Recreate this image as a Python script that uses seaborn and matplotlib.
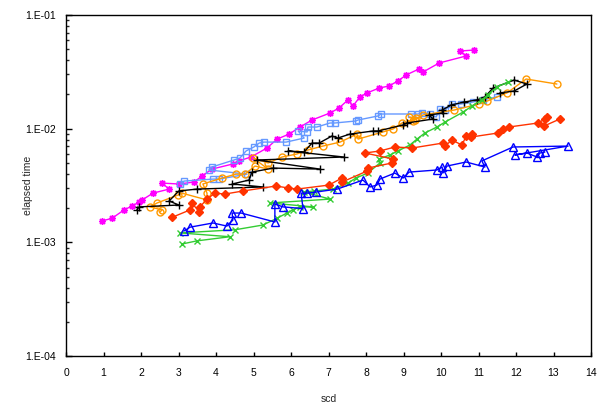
import numpy as np
import pandas as pd
import seaborn as sns
import matplotlib
matplotlib.use("Agg")
import matplotlib.pyplot as plt
from matplotlib.ticker import FuncFormatter, LogLocator, NullFormatter

# ---- data (scd, elapsed time) ----
mag_x = [0.96, 1.23, 1.55, 1.76, 1.95, 2.03, 2.32, 2.75, 2.56, 3.01, 3.41, 3.63, 3.89, 4.45, 4.61, 4.93,
         5.36, 5.63, 5.95, 6.24, 6.56, 7.04, 7.28, 7.52, 7.65, 7.84, 8.03, 8.35, 8.61, 8.85, 9.07, 9.41,
         9.52, 9.95, 10.67, 10.51, 10.88]
mag_y = [0.00154, 0.00163, 0.00193, 0.00209, 0.00226, 0.00236, 0.00271, 0.00294, 0.00332, 0.00326,
         0.00339, 0.00383, 0.00441, 0.00489, 0.00520, 0.00563, 0.00676, 0.00810, 0.00896, 0.01034,
         0.01192, 0.01373, 0.01519, 0.01791, 0.01582, 0.01904, 0.02064, 0.02277, 0.02372, 0.02626,
         0.02965, 0.03348, 0.03150, 0.03782, 0.04360, 0.04820, 0.04920]

lb_x = [3.04, 3.15, 3.92, 4.08, 4.83, 3.81, 3.89, 4.48, 4.64, 4.80, 5.01, 5.15, 5.28, 5.87, 6.35, 6.19,
        6.43, 6.45, 6.69, 7.04, 7.17, 7.73, 7.79, 8.32, 8.40, 9.20, 9.39, 9.49, 9.71, 9.87, 9.97, 10.11,
        10.29, 10.53, 10.85, 11.12, 11.49]
lb_y = [0.00326, 0.00346, 0.00360, 0.00360, 0.00398, 0.00433, 0.00460, 0.00530, 0.00552, 0.00636,
        0.00690, 0.00747, 0.00762, 0.00762, 0.00827, 0.00954, 0.00935, 0.01034, 0.01034, 0.01122,
        0.01122, 0.01168, 0.01192, 0.01293, 0.01346, 0.01346, 0.01346, 0.01373, 0.01346, 0.01266,
        0.01488, 0.01458, 0.01648, 0.01648, 0.01715, 0.01791, 0.01904]

or_x = [2.51, 2.56, 2.24, 2.43, 2.99, 3.09, 3.76, 3.76, 3.65, 4.16, 4.53, 4.77, 5.04, 5.39, 4.99, 5.39,
        5.76, 6.16, 6.45, 6.85, 7.31, 7.76, 7.79, 8.45, 8.72, 8.96, 9.25, 9.33, 9.15, 9.31, 9.52, 10.35,
        11.01, 11.23, 11.76, 12.27, 13.09]
or_y = [0.00185, 0.00193, 0.00205, 0.00222, 0.00261, 0.00271, 0.00236, 0.00271, 0.00326, 0.00368,
        0.00398, 0.00398, 0.00469, 0.00441, 0.00552, 0.00499, 0.00563, 0.00599, 0.00649, 0.00703,
        0.00762, 0.00896, 0.00810, 0.00935, 0.00993, 0.01122, 0.01168, 0.01241, 0.01266, 0.01192,
        0.01320, 0.01458, 0.01648, 0.01749, 0.02064, 0.02734, 0.02470]

bk_x = [1.89, 1.95, 3.01, 2.75, 3.01, 3.49, 5.25, 4.43, 4.88, 4.96, 5.52, 6.77, 5.09, 7.41, 5.92, 6.35,
        6.56, 6.75, 7.09, 7.25, 7.57, 8.19, 8.32, 8.99, 9.09, 9.79, 9.68, 10.05, 10.03, 10.27, 10.61,
        10.96, 11.17, 11.39, 11.95, 12.29, 11.95, 11.57]
bk_y = [0.00193, 0.00205, 0.00213, 0.00231, 0.00283, 0.00294, 0.00307, 0.00326, 0.00353, 0.00415,
        0.00450, 0.00441, 0.00530, 0.00563, 0.00636, 0.00623, 0.00747, 0.00747, 0.00861, 0.00827,
        0.00896, 0.00954, 0.00954, 0.01078, 0.01122, 0.01216, 0.01320, 0.01373, 0.01458, 0.01614,
        0.01715, 0.01791, 0.01904, 0.02277, 0.02677, 0.02470, 0.02144, 0.02064]

gr_x = [3.09, 3.49, 4.37, 3.04, 4.51, 5.25, 5.63, 5.89, 6.05, 6.24, 6.59, 5.44, 7.04, 6.35, 6.61, 7.12,
        7.52, 7.73, 8.05, 8.37, 8.35, 8.64, 8.85, 9.17, 9.36, 9.57, 9.89, 10.11, 10.59, 10.83, 11.09,
        11.25, 11.49, 11.79]
gr_y = [0.000966, 0.00103, 0.00112, 0.00121, 0.00129, 0.00142, 0.00163, 0.00181, 0.00193, 0.00205,
        0.00205, 0.00222, 0.00240, 0.00277, 0.00283, 0.00294, 0.00332, 0.00368, 0.00407, 0.00499,
        0.00541, 0.00587, 0.00636, 0.00718, 0.00810, 0.00916, 0.01034, 0.01144, 0.01401, 0.01582,
        0.01791, 0.01991, 0.02324, 0.02572]

rd_x = [2.83, 3.31, 3.36, 3.55, 3.57, 3.76, 3.97, 4.24, 4.72, 5.60, 5.92, 6.16, 7.01, 7.36, 7.36, 8.03,
        8.05, 8.69, 8.72, 7.97, 8.37, 8.77, 9.23, 10.05, 10.11, 10.29, 10.56, 10.67, 10.83, 10.80,
        11.52, 11.65, 11.81, 12.59, 12.77, 12.83, 12.75, 13.17]
rd_y = [0.00166, 0.00193, 0.00222, 0.00185, 0.00205, 0.00240, 0.00271, 0.00266, 0.00283, 0.00313,
        0.00301, 0.00294, 0.00319, 0.00368, 0.00339, 0.00424, 0.00450, 0.00499, 0.00541, 0.00611,
        0.00636, 0.00690, 0.00676, 0.00747, 0.00703, 0.00794, 0.00718, 0.00861, 0.00896, 0.00844,
        0.00916, 0.00993, 0.01034, 0.01122, 0.01216, 0.01266, 0.01056, 0.01216]

bl_x = [3.15, 3.31, 3.92, 4.29, 4.45, 4.43, 4.67, 5.57, 5.57, 5.79, 6.32, 6.27, 6.43, 6.67, 7.23, 7.92,
        8.11, 8.29, 8.37, 8.77, 8.99, 9.15, 9.89, 10.03, 10.05, 10.16, 10.67, 11.17, 11.09, 11.92,
        13.39, 11.97, 12.29, 12.56, 12.64, 12.77]
bl_y = [0.00126, 0.00136, 0.00148, 0.00139, 0.00157, 0.00181, 0.00181, 0.00151, 0.00217, 0.00205,
        0.00198, 0.00271, 0.00271, 0.00277, 0.00294, 0.00353, 0.00307, 0.00319, 0.00360, 0.00407,
        0.00368, 0.00415, 0.00433, 0.00460, 0.00407, 0.00469, 0.00509, 0.00460, 0.00520, 0.00690,
        0.00703, 0.00587, 0.00611, 0.00563, 0.00611, 0.00623]

x_ticks = list(range(0, 15))
x_label = "scd"
y_label = "elapsed time"

series = [
    (mag_x, mag_y, "#FF00FF", (8, 2, 0), 5, "#FF00FF"),
    (lb_x, lb_y, "#6699FF", "s", 5, "none"),
    (or_x, or_y, "#FF9900", "o", 5, "none"),
    (bk_x, bk_y, "#000000", "+", 6, "#000000"),
    (gr_x, gr_y, "#33CC33", "x", 4, "#33CC33"),
    (rd_x, rd_y, "#FF3300", "D", 4.5, "#FF3300"),
    (bl_x, bl_y, "#0000FF", "^", 5.5, "none"),
]

sns.set_style("white")
plt.rcParams['font.family'] = ['Liberation Sans', 'DejaVu Sans']

fig = plt.figure(figsize=(6.03, 4.09), dpi=100)
ax = fig.add_axes([66 / 603, 1 - 356 / 409, (591 - 66) / 603, (356 - 15) / 409])

for xs, ys, col, mk, ms, fc in series:
    df = pd.DataFrame({"x": xs, "y": ys})
    sns.lineplot(data=df, x="x", y="y", sort=False, estimator=None, ax=ax,
                 color=col, linewidth=1.0, marker=mk, markersize=ms,
                 markeredgecolor=col, markerfacecolor=fc, markeredgewidth=1.0)

ax.set_yscale("log")
ax.set_ylim(1e-4, 1e-1)
ax.set_xlim(0, 14)
ax.set_xticks(x_ticks)
ax.set_xticklabels([str(t) for t in x_ticks])
ax.yaxis.set_major_locator(LogLocator(base=10, numticks=10))
ax.yaxis.set_minor_locator(LogLocator(base=10, subs=np.arange(2, 10), numticks=10))
ax.yaxis.set_major_formatter(FuncFormatter(lambda v, p: "1.E%03d" % int(round(np.log10(v)))))
ax.yaxis.set_minor_formatter(NullFormatter())

ax.tick_params(axis="both", which="major", direction="in", length=4, width=1,
               labelsize=7.5, colors="black")
ax.tick_params(axis="x", which="major", pad=9, length=3)
ax.tick_params(axis="y", which="major", pad=7)
ax.tick_params(axis="y", which="minor", direction="in", length=2, width=1, left=True)
ax.tick_params(axis="x", which="both", top=False, bottom=True)
ax.tick_params(axis="y", which="both", right=False, left=True)

for s in ax.spines.values():
    s.set_color("black")
    s.set_linewidth(1.0)
    s.set_visible(True)

ax.set_xlabel(x_label, fontsize=7.5)
ax.set_ylabel(y_label, fontsize=7.5)
ax.xaxis.set_label_coords(0.5, -0.112)
ax.yaxis.set_label_coords(-0.063, 0.5)

fig.savefig("out.png", dpi=100)
